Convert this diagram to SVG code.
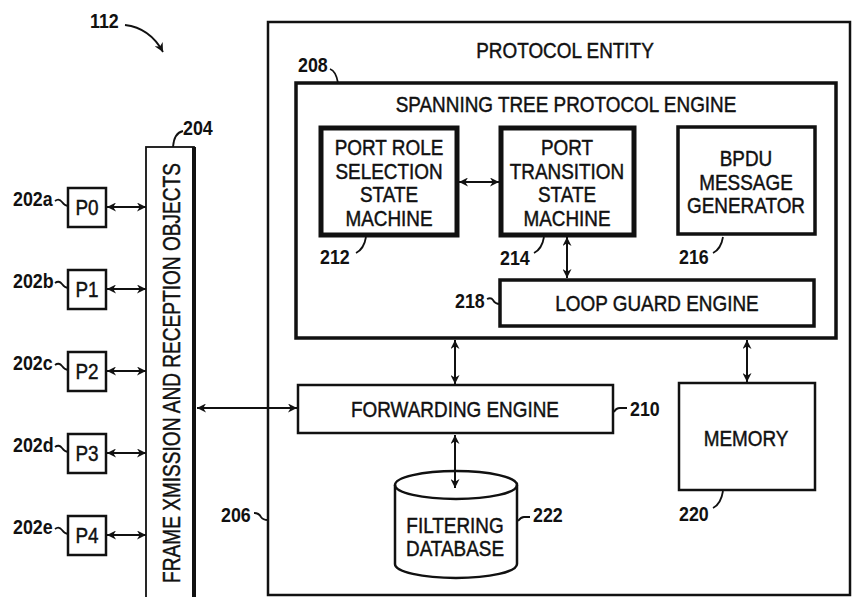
<svg xmlns="http://www.w3.org/2000/svg" width="855" height="597" viewBox="0 0 855 597">
<style>
  .t{font-family:"Liberation Sans",Arial,sans-serif;font-size:22px;text-anchor:middle;fill:#111;stroke:#111;stroke-width:0.45}
  .n{font-family:"Liberation Sans",Arial,sans-serif;font-size:21px;font-weight:bold;text-anchor:start;fill:#111}
  .box{fill:#fff;stroke:#111;stroke-width:2.5}
  .thick{fill:#fff;stroke:#111;stroke-width:3.5}
  .heavy{fill:#fff;stroke:#111;stroke-width:5}
  .conn{fill:none;stroke:#111;stroke-width:2}
  .lead{fill:none;stroke:#111;stroke-width:1.8}
</style>
<defs>
  <marker id="ah" viewBox="0 0 10 10" refX="10" refY="5" markerWidth="10" markerHeight="9" markerUnits="userSpaceOnUse" orient="auto-start-reverse">
    <path d="M0,0 L10,5 L0,10 L3,5 Z" fill="#111"/>
  </marker>
</defs>
<rect width="855" height="597" fill="#fff"/>

<g id="label-112">
  <text class="n" transform="translate(90 28) scale(0.85 1)">112</text>
  <path class="lead" d="M125,25 Q150,28 163,52" marker-end="url(#ah)"/>
</g>

<g id="protocol-entity">
  <rect class="box" x="268" y="22" width="582" height="573"/>
  <text class="t" transform="translate(565 58) scale(0.86 1)">PROTOCOL ENTITY</text>
  <text class="n" transform="translate(221 522) scale(0.85 1)">206</text>
  <path class="lead" d="M254,513 q5,0 7,4 q2,3 7,3"/>
</g>

<g id="frame-objects">
  <rect x="146" y="147" width="48" height="460" fill="#fff" stroke="#111" stroke-width="1.8"/>
  <line x1="194" y1="147" x2="194" y2="597" stroke="#111" stroke-width="4"/>
  <text class="t" transform="translate(180 373) rotate(-90) scale(0.83 1)" style="font-size:23px">FRAME XMISSION AND RECEPTION OBJECTS</text>
  <text class="n" transform="translate(183 135) scale(0.85 1)">204</text>
  <path class="lead" d="M183,131 q-9,2 -10,16"/>
</g>

<g id="port-P0">
  <rect class="box" x="68" y="188" width="38" height="39"/>
  <text class="t" transform="translate(87 215) scale(0.86 1)">P0</text>
  <text class="n" transform="translate(13 206) scale(0.85 1)">202a</text>
  <path class="lead" d="M55,201 q4,-3 7,1 q3,4 6,4"/>
</g>
<g id="port-P1">
  <rect class="box" x="68" y="270" width="38" height="39"/>
  <text class="t" transform="translate(87 297) scale(0.86 1)">P1</text>
  <text class="n" transform="translate(13 288) scale(0.85 1)">202b</text>
  <path class="lead" d="M55,283 q4,-3 7,1 q3,4 6,4"/>
</g>
<g id="port-P2">
  <rect class="box" x="68" y="352" width="38" height="39"/>
  <text class="t" transform="translate(87 379) scale(0.86 1)">P2</text>
  <text class="n" transform="translate(13 370) scale(0.85 1)">202c</text>
  <path class="lead" d="M55,365 q4,-3 7,1 q3,4 6,4"/>
</g>
<g id="port-P3">
  <rect class="box" x="68" y="434" width="38" height="39"/>
  <text class="t" transform="translate(87 461) scale(0.86 1)">P3</text>
  <text class="n" transform="translate(13 452) scale(0.85 1)">202d</text>
  <path class="lead" d="M55,447 q4,-3 7,1 q3,4 6,4"/>
</g>
<g id="port-P4">
  <rect class="box" x="68" y="516" width="38" height="39"/>
  <text class="t" transform="translate(87 543) scale(0.86 1)">P4</text>
  <text class="n" transform="translate(13 534) scale(0.85 1)">202e</text>
  <path class="lead" d="M55,529 q4,-3 7,1 q3,4 6,4"/>
</g>

<g id="stp-engine">
  <rect class="thick" x="296" y="83" width="540" height="255"/>
  <text class="t" transform="translate(566 112) scale(0.86 1)">SPANNING TREE PROTOCOL ENGINE</text>
  <text class="n" transform="translate(298 72) scale(0.85 1)">208</text>
  <path class="lead" d="M330,69 q6,2 8,14"/>
</g>

<g id="port-role">
  <rect class="heavy" x="321" y="128" width="136" height="107"/>
  <text class="t" transform="translate(389 155) scale(0.86 1)">PORT ROLE</text>
  <text class="t" transform="translate(389 179) scale(0.86 1)">SELECTION</text>
  <text class="t" transform="translate(389 202) scale(0.86 1)">STATE</text>
  <text class="t" transform="translate(389 226) scale(0.86 1)">MACHINE</text>
  <text class="n" transform="translate(320 264) scale(0.85 1)">212</text>
  <path class="lead" d="M356,253 q8,-4 10,-16"/>
</g>

<g id="port-transition">
  <rect class="heavy" x="501" y="128" width="133" height="107"/>
  <text class="t" transform="translate(567 155) scale(0.86 1)">PORT</text>
  <text class="t" transform="translate(567 179) scale(0.86 1)">TRANSITION</text>
  <text class="t" transform="translate(567 202) scale(0.86 1)">STATE</text>
  <text class="t" transform="translate(567 226) scale(0.86 1)">MACHINE</text>
  <text class="n" transform="translate(500 265) scale(0.85 1)">214</text>
  <path class="lead" d="M534,253 q8,-4 10,-16"/>
</g>

<g id="bpdu-generator">
  <rect class="thick" x="678" y="127" width="137" height="107"/>
  <text class="t" transform="translate(746 166) scale(0.86 1)">BPDU</text>
  <text class="t" transform="translate(746 190) scale(0.86 1)">MESSAGE</text>
  <text class="t" transform="translate(746 213) scale(0.86 1)">GENERATOR</text>
  <text class="n" transform="translate(679 264) scale(0.85 1)">216</text>
  <path class="lead" d="M713,253 q8,-4 10,-16"/>
</g>

<g id="loop-guard">
  <rect class="thick" x="500" y="280" width="314" height="46"/>
  <text class="t" transform="translate(657 311) scale(0.86 1)">LOOP GUARD ENGINE</text>
  <text class="n" transform="translate(455 308) scale(0.85 1)">218</text>
  <path class="lead" d="M487,299 q4,-2 6,1 q2,4 7,4"/>
</g>

<g id="forwarding-engine">
  <rect class="box" x="298" y="385" width="315" height="48"/>
  <text class="t" transform="translate(455 417) scale(0.86 1)">FORWARDING ENGINE</text>
  <text class="n" transform="translate(630 416) scale(0.85 1)">210</text>
  <path class="lead" d="M614,412 q2,-4 6,-4 l7,0"/>
</g>

<g id="memory">
  <rect class="box" x="679" y="383" width="136" height="107"/>
  <text class="t" transform="translate(746 446) scale(0.86 1)">MEMORY</text>
  <text class="n" transform="translate(679 521) scale(0.85 1)">220</text>
  <path class="lead" d="M713,508 q8,-4 10,-17"/>
</g>

<g id="filtering-database">
  <path d="M395,485 L395,564 A61,14 0 0 0 517,564 L517,485 A61,14 0 0 0 395,485 Z" fill="#fff" stroke="#111" stroke-width="2.5"/>
  <path d="M395,485 A61,14 0 0 0 517,485" fill="none" stroke="#111" stroke-width="2.5"/>
  <text class="t" transform="translate(455 533) scale(0.86 1)">FILTERING</text>
  <text class="t" transform="translate(455 556) scale(0.86 1)">DATABASE</text>
  <text class="n" transform="translate(533 522) scale(0.85 1)">222</text>
  <path class="lead" d="M518,521 q3,-4 6,-4 l6,0"/>
</g>

<g id="connectors">
  <line class="conn" x1="107" y1="207" x2="146" y2="207" marker-start="url(#ah)" marker-end="url(#ah)"/>
  <line class="conn" x1="107" y1="289" x2="146" y2="289" marker-start="url(#ah)" marker-end="url(#ah)"/>
  <line class="conn" x1="107" y1="371" x2="146" y2="371" marker-start="url(#ah)" marker-end="url(#ah)"/>
  <line class="conn" x1="107" y1="453" x2="146" y2="453" marker-start="url(#ah)" marker-end="url(#ah)"/>
  <line class="conn" x1="107" y1="535" x2="146" y2="535" marker-start="url(#ah)" marker-end="url(#ah)"/>
  <line class="conn" x1="197" y1="408" x2="297" y2="408" marker-start="url(#ah)" marker-end="url(#ah)"/>
  <line class="conn" x1="459" y1="182" x2="499" y2="182" marker-start="url(#ah)" marker-end="url(#ah)"/>
  <line class="conn" x1="567" y1="237" x2="567" y2="278" marker-start="url(#ah)" marker-end="url(#ah)"/>
  <line class="conn" x1="455" y1="340" x2="455" y2="384" marker-start="url(#ah)" marker-end="url(#ah)"/>
  <line class="conn" x1="747" y1="340" x2="747" y2="382" marker-start="url(#ah)" marker-end="url(#ah)"/>
  <line class="conn" x1="455" y1="435" x2="455" y2="488" marker-start="url(#ah)" marker-end="url(#ah)"/>
</g>
</svg>
